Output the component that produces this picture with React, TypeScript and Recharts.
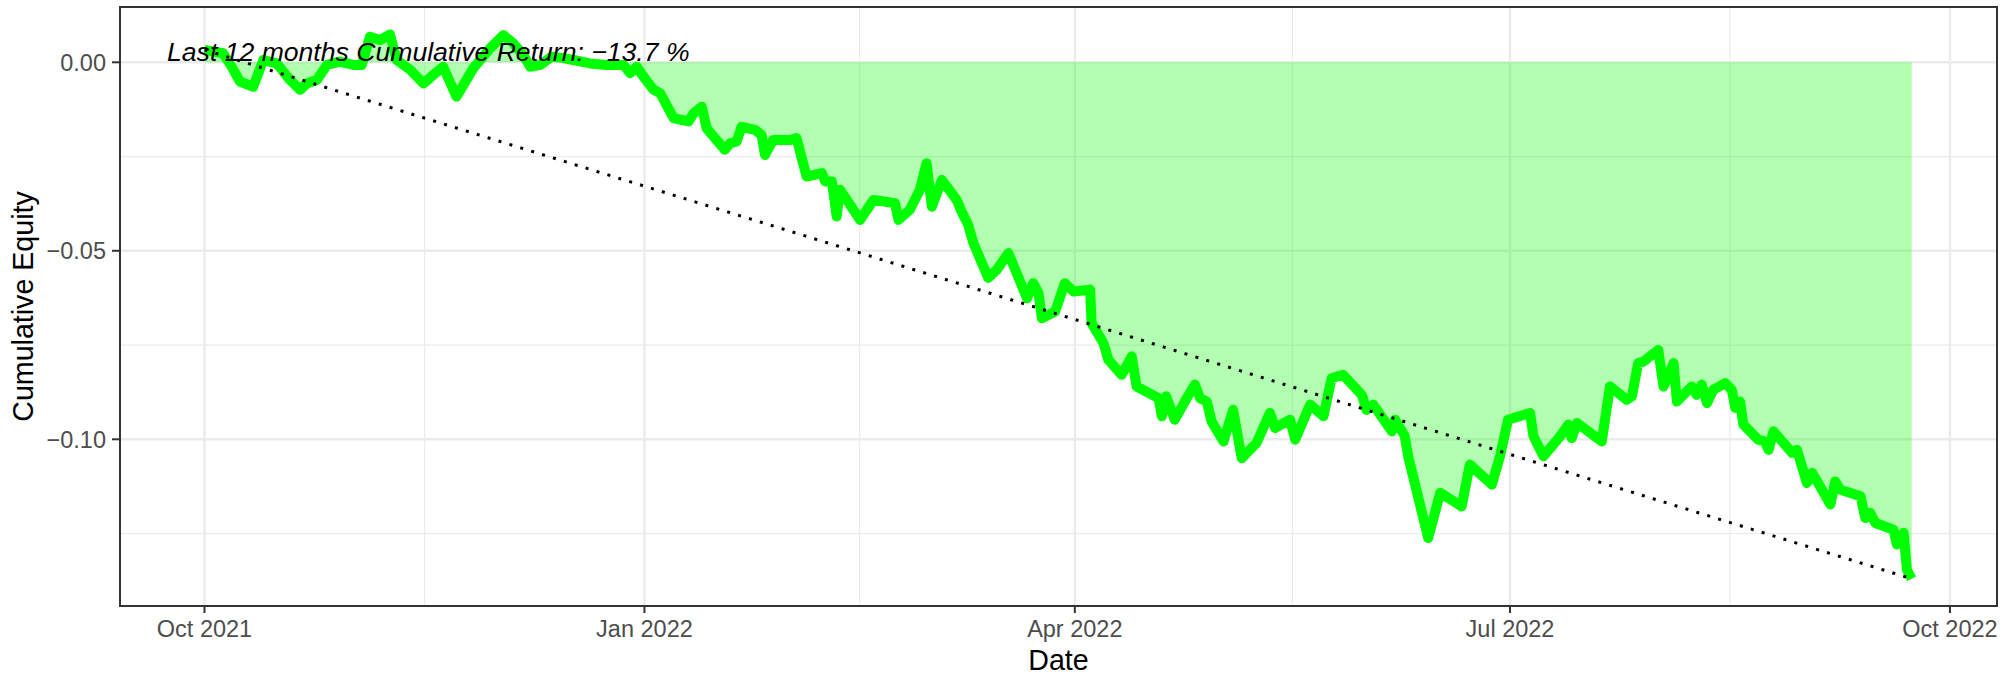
import React from "react";
import {
  ComposedChart,
  Area,
  Line,
  XAxis,
  YAxis,
  CartesianGrid,
  ReferenceLine,
  ReferenceArea,
  ReferenceDot,
  Label,
} from "recharts";

// days since 2021-10-01
const dayOffsets = [0,3.9,5.7,7.4,10.2,12.3,15.1,17.9,20.0,21.4,23.5,25.6,28.3,31.1,32.9,34.6,36.7,38.8,40.2,43.0,45.8,47.8,49.9,52.7,56.2,59.7,62.5,64.6,66.7,68.1,70.2,72.6,75.0,77.1,80.6,84.1,87.6,89.0,90.4,91.8,93.9,95.3,97.0,98.1,101.2,102.3,104.0,105.0,108.8,109.9,111.3,112.3,115.1,116.5,117.2,118.9,122.4,123.8,125.9,129.1,129.8,131.2,132.2,132.9,137.1,139.9,144.4,145.1,147.5,149.6,151.0,152.1,154.2,157.3,158.3,159.7,160.8,163.9,165.7,168.1,172.0,173.3,174.4,175.1,177.9,179.9,181.7,185.2,185.5,188.0,189.0,191.8,193.9,194.9,199.5,200.2,201.1,202.9,205.4,207.1,208.2,209.6,210.6,213.1,215.1,216.9,220.0,222.8,223.9,227.0,228.1,231.2,234.0,235.7,238.1,242.0,243.0,244.4,248.3,249.0,251.0,251.7,255.9,258.4,262.9,264.6,269.2,270.9,272.6,277.2,277.9,280.0,283.5,285.2,285.9,287.0,292.2,293.9,297.4,298.5,299.8,300.9,304.0,305.1,307.2,307.9,311.0,312.0,313.1,314.2,315.5,318.0,319.4,320.1,321.1,321.8,324.9,326.3,327.1,328.1,332.0,333.0,335.1,336.2,340.0,341.0,342.1,346.3,347.3,348.3,349.4,353.2,353.9,355.3,356.0,357.0];

const equityValues = [0.0033,0.0024,-0.0012,-0.0051,-0.0065,0.0006,-0.0003,-0.0047,-0.0073,-0.0056,-0.0047,-0.0007,0.0002,-0.0007,-0.0007,0.0068,0.0059,0.0074,0.0006,-0.0020,-0.0056,-0.0034,-0.0012,-0.0091,-0.0016,0.0037,0.0072,0.0050,0.0019,-0.0012,-0.0007,0.0015,0.0011,0.0006,-0.0003,-0.0007,-0.0007,-0.0029,-0.0012,-0.0038,-0.0073,-0.0082,-0.0122,-0.0148,-0.0157,-0.0135,-0.0118,-0.0175,-0.0232,-0.0215,-0.0210,-0.0171,-0.0179,-0.0193,-0.0246,-0.0206,-0.0206,-0.0201,-0.0303,-0.0294,-0.0316,-0.0316,-0.0409,-0.0338,-0.0418,-0.0365,-0.0374,-0.0418,-0.0391,-0.0338,-0.0268,-0.0383,-0.0312,-0.0365,-0.0396,-0.0431,-0.0480,-0.0572,-0.0550,-0.0506,-0.0626,-0.0586,-0.0612,-0.0679,-0.0661,-0.0586,-0.0608,-0.0603,-0.0692,-0.0745,-0.0789,-0.0829,-0.0780,-0.0860,-0.0891,-0.0939,-0.0886,-0.0948,-0.0891,-0.0855,-0.0891,-0.0900,-0.0953,-0.1006,-0.0922,-0.1050,-0.1010,-0.0930,-0.0970,-0.0948,-0.1001,-0.0908,-0.0939,-0.0838,-0.0829,-0.0882,-0.0922,-0.0908,-0.0979,-0.0948,-0.0992,-0.1045,-0.1262,-0.1142,-0.1178,-0.1067,-0.1120,-0.1045,-0.0948,-0.0930,-0.0992,-0.1045,-0.0992,-0.0961,-0.0997,-0.0957,-0.1006,-0.0860,-0.0895,-0.0886,-0.0798,-0.0794,-0.0763,-0.0860,-0.0798,-0.0900,-0.0860,-0.0882,-0.0855,-0.0904,-0.0869,-0.0851,-0.0869,-0.0917,-0.0900,-0.0961,-0.1001,-0.1006,-0.1028,-0.0979,-0.1036,-0.1028,-0.1116,-0.1089,-0.1173,-0.1112,-0.1134,-0.1151,-0.1209,-0.1195,-0.1222,-0.1240,-0.1279,-0.1248,-0.1346,-0.1370];

const xTickDays = [0, 92, 182, 273, 365];
const xTickLabels = ["Oct 2021", "Jan 2022", "Apr 2022", "Jul 2022", "Oct 2022"];
const xMinorDays = [46, 137, 227.5, 319];
const yTickValues = [-0.1, -0.05, 0];
const yTickLabels = ["\u22120.10", "\u22120.05", "0.00"];
const yMinorValues = [-0.125, -0.075, -0.025];

const annotationText = "Last 12 months Cumulative Return: \u221213.7 %";
const annotationDay = 46.8;
const annotationValue = 0;

const X_DOMAIN: [number, number] = [-17.67, 374.84];
const Y_DOMAIN: [number, number] = [-0.14422, 0.014668];

const n = Math.min(dayOffsets.length, equityValues.length);
const data = Array.from({ length: n }, (_, i) => ({ day: dayOffsets[i], v: equityValues[i] }));

const FONT = "'Liberation Sans', Arial, Helvetica, sans-serif";

const AnnotationLabel = (props: any) => {
  const vb = props.viewBox || {};
  const cx = (vb.x ?? 0) + (vb.width ?? 0) / 2;
  const cy = (vb.y ?? 0) + (vb.height ?? 0) / 2;
  return (
    <text
      x={cx}
      y={cy - 1.5}
      textAnchor="middle"
      fontFamily={FONT}
      fontStyle="italic"
      fontSize={26.6}
      fill="#000000"
    >
      {annotationText}
    </text>
  );
};

const YTitle = (props: any) => {
  const vb = props.viewBox || {};
  const x = (vb.x ?? 0) + 32.5;
  const y = (vb.y ?? 0) + (vb.height ?? 0) / 2;
  return (
    <text
      x={x}
      y={y}
      transform={`rotate(-90, ${x}, ${y})`}
      textAnchor="middle"
      fontFamily={FONT}
      fontSize={28.6}
      fill="#000000"
    >
      Cumulative Equity
    </text>
  );
};

export default function App() {
  const first = data[0];
  const last = data[data.length - 1];
  return (
    <div style={{ position: "absolute", left: 0, top: 0, width: 2013, height: 676, background: "#ffffff" }}>
      <ComposedChart
        width={2013}
        height={676}
        data={data}
        margin={{ top: 7, right: 16, bottom: 0, left: 0 }}
      >
        <CartesianGrid
          stroke="#EBEBEB"
          strokeWidth={1.2}
          horizontalValues={yMinorValues}
          verticalValues={xMinorDays}
        />
        <CartesianGrid
          stroke="#EBEBEB"
          strokeWidth={2.4}
          horizontalValues={yTickValues}
          verticalValues={xTickDays}
        />
        <XAxis
          type="number"
          dataKey="day"
          domain={X_DOMAIN}
          allowDataOverflow
          ticks={xTickDays}
          tickFormatter={(v: number) => xTickLabels[xTickDays.indexOf(v)] ?? ""}
          axisLine={false}
          tickLine={{ stroke: "#333333", strokeWidth: 2 }}
          tickSize={7}
          tickMargin={7}
          height={70}
          tick={{ fill: "#4D4D4D", fontSize: 23.5, fontFamily: FONT }}
          interval={0}
        >
          <Label
            value="Date"
            position="insideBottom"
            offset={6}
            style={{ fill: "#000000", fontSize: 28.6, fontFamily: FONT }}
          />
        </XAxis>
        <YAxis
          type="number"
          domain={Y_DOMAIN}
          allowDataOverflow
          ticks={yTickValues}
          tickFormatter={(v: number) => yTickLabels[yTickValues.indexOf(v)] ?? ""}
          axisLine={false}
          tickLine={{ stroke: "#333333", strokeWidth: 2 }}
          tickSize={8}
          tickMargin={6}
          width={120}
          tick={{ fill: "#4D4D4D", fontSize: 23.5, fontFamily: FONT }}
          interval={0}
        >
          <Label content={<YTitle />} />
        </YAxis>
        <Area
          type="linear"
          dataKey="v"
          baseValue={0}
          stroke="none"
          fill="#00FF00"
          fillOpacity={0.3}
          isAnimationActive={false}
        />
        <Line
          type="linear"
          dataKey="v"
          stroke="#00FF00"
          strokeWidth={10}
          strokeLinejoin="round"
          strokeLinecap="butt"
          dot={false}
          activeDot={false}
          isAnimationActive={false}
        />
        <ReferenceLine
          segment={[
            { x: first.day, y: first.v },
            { x: last.day, y: last.v },
          ]}
          stroke="#000000"
          strokeWidth={3}
          strokeDasharray="3 8.4"
          ifOverflow="visible"
        />
        <ReferenceDot
          x={annotationDay}
          y={annotationValue}
          r={0}
          fill="none"
          stroke="none"
          ifOverflow="visible"
          label={<AnnotationLabel />}
        />
        <ReferenceArea
          x1={X_DOMAIN[0]}
          x2={X_DOMAIN[1]}
          y1={Y_DOMAIN[0]}
          y2={Y_DOMAIN[1]}
          fill="none"
          fillOpacity={0}
          stroke="#333333"
          strokeWidth={2}
          ifOverflow="visible"
        />
      </ComposedChart>
    </div>
  );
}
